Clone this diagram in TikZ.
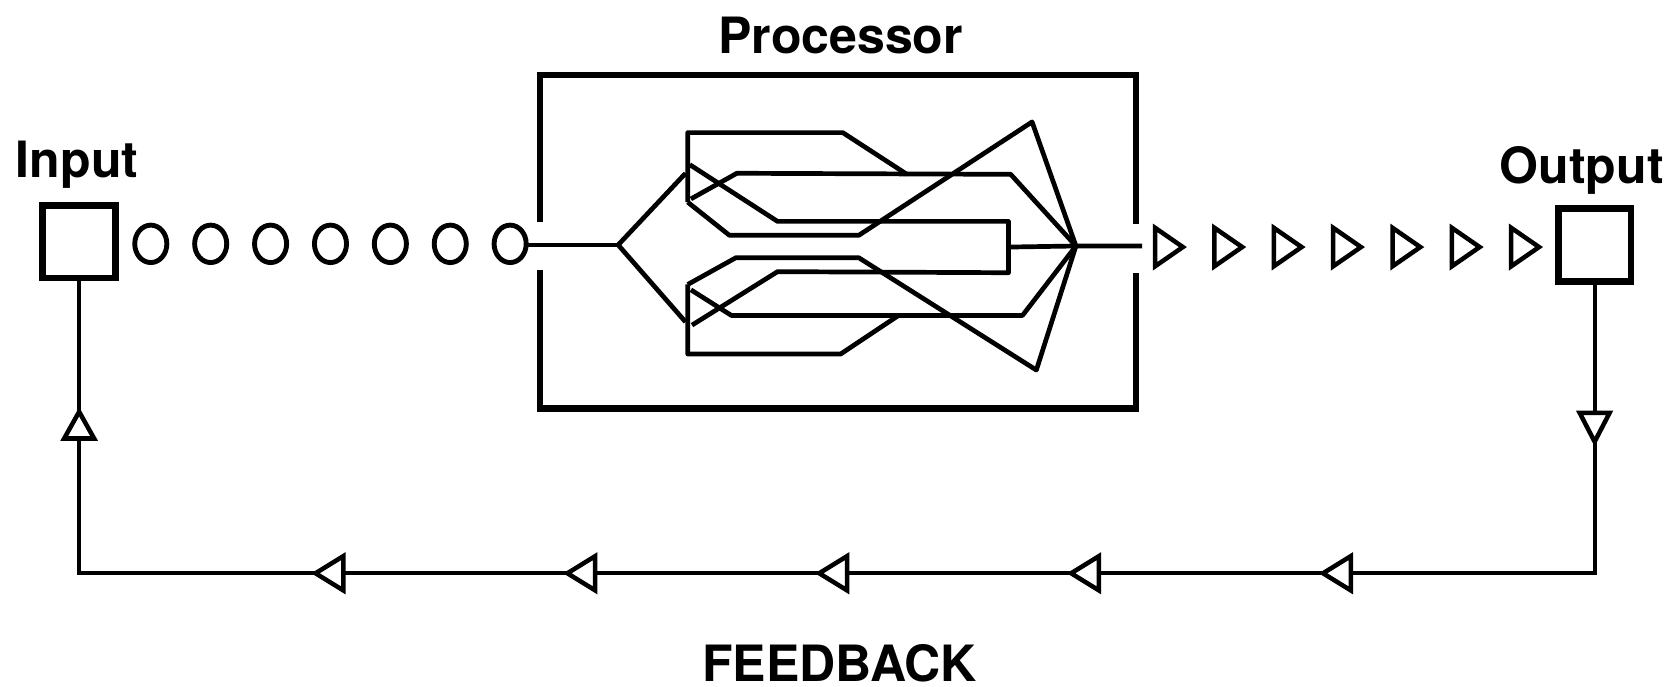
\documentclass[tikz,border=0pt]{standalone}
\usepackage{fontspec}
\setmainfont{TeX Gyre Heros}
\usepackage{tikz}

\begin{document}
\begin{tikzpicture}[x=0.01cm,y=-0.01cm,
    procframe/.style={line width=1.7pt},
    wire/.style={line width=1.25pt,line join=round},
    box/.style={draw,line width=1.8pt,minimum size=0.68cm,inner sep=0pt},
    lbl/.style={font=\bfseries\fontsize{13.3}{16}\selectfont,anchor=base},
    tri/.style={line width=1.2pt,fill=white,line join=miter}]
    \useasboundingbox (0,0) rectangle (1568,642);

    \node[lbl] (proclbl) at (786,50) {Processor};
    \node[lbl] (inlbl) at (72,166) {Input};
    \node[lbl] (outlbl) at (1479,172) {Output};
    \node[lbl] (fblbl) at (785,637) {FEEDBACK};

    \node[box] (in) at (74,226) {};
    \node[box] (out) at (1491,229) {};

    % processor frame, open at the ports
    \draw[procframe] (505,208) -- (505,70) -- (1062,70) -- (1062,209);
    \draw[procframe] (505,252) -- (505,382) -- (1062,382) -- (1062,255);

    \coordinate (inport) at (494,229);
    \coordinate (split) at (578,229);
    \coordinate (merge) at (1006,230);
    \coordinate (outport) at (1068,230);

    \draw[wire] (inport) -- (split);
    \draw[wire] (split) -- (641,162);
    \draw[wire] (split) -- (641,301);
    \draw[wire] (643,189) -- (643,124) -- (788,124) -- (848,163);
    \draw[wire] (643,266) -- (643,331) -- (786,331) -- (840,295);
    \draw[wire] (643,189) -- (682,220) -- (803,220) -- (965,114) -- (merge);
    \draw[wire] (643,266) -- (688,241) -- (803,241) -- (969,346) -- (merge);
    \draw[wire] (646,186) -- (689,162) -- (945,163) -- (merge);
    \draw[wire] (646,271) -- (684,295) -- (956,295) -- (merge);
    \draw[wire] (645,154) -- (727,207) -- (943,207) -- (943,255) -- (727,254) -- (647,304);
    \draw[wire] (943,231) -- (merge) -- (outport);

    \foreach \x in {141,197,...,477} {
        \draw[line width=1.3pt] (\x,228) ellipse (15 and 17.5);
    }
    \foreach \x in {1080,1135.5,...,1414} {
        \draw[tri] (\x,213) -- (\x+26,231) -- (\x,249) -- cycle;
    }

    \coordinate (fbr) at (1491,536);
    \coordinate (fbl) at (74,536);
    \draw[line width=1.1pt] (out) -- (fbr) -- (fbl) -- (in);
    \foreach \x in {295,530.5,...,1238} {
        \draw[tri] (\x,536) -- (\x+26,520) -- (\x+26,552) -- cycle;
    }
    \draw[tri] (74,385) -- (88,410) -- (60,410) -- cycle;
    \draw[tri] (1491,413) -- (1505,386) -- (1477,386) -- cycle;
\end{tikzpicture}
\end{document}
